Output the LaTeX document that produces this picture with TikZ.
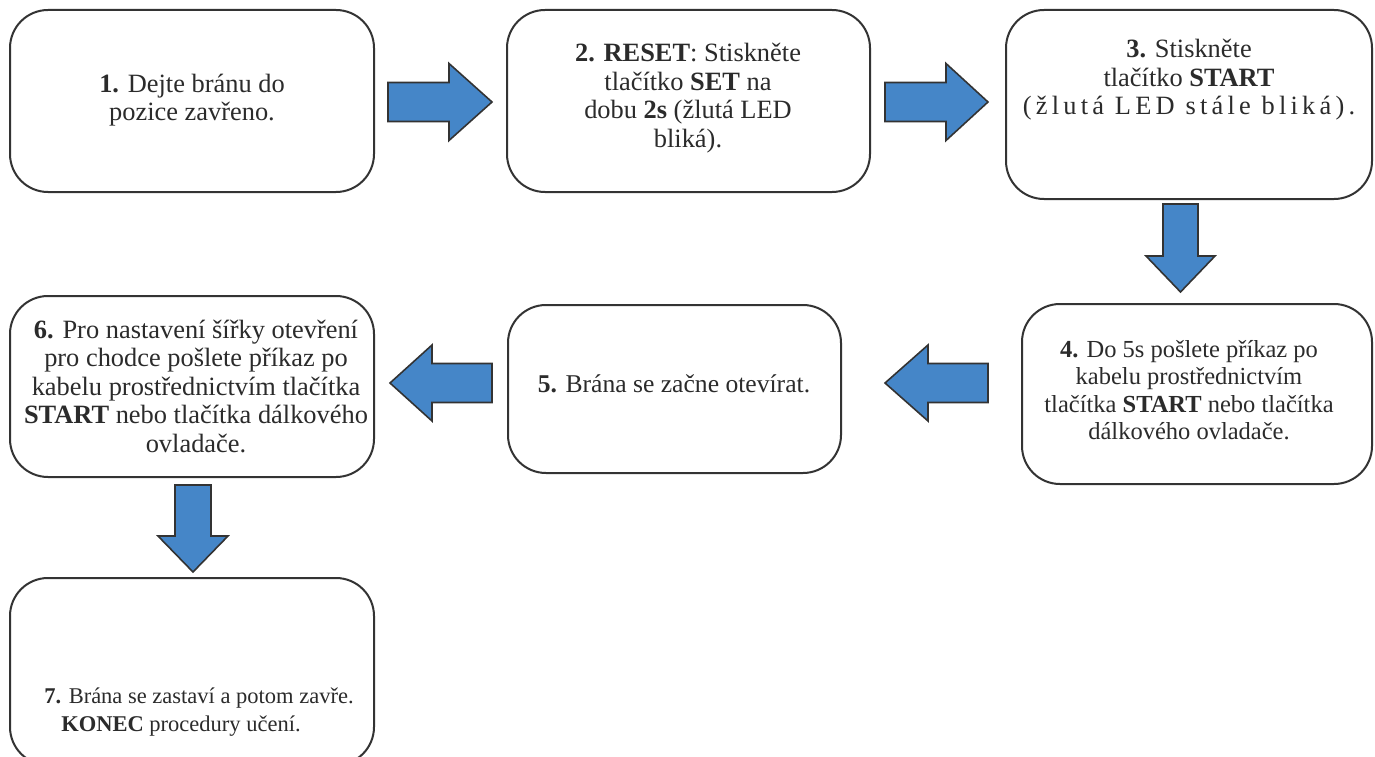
\documentclass[tikz,border=0pt]{standalone}
\usepackage{fontspec}
\setmainfont{Liberation Serif}
\definecolor{edgegray}{HTML}{333333}
\definecolor{textgray}{HTML}{2B2B2B}
\definecolor{arrowblue}{HTML}{4586C8}
\begin{document}
\begin{tikzpicture}[x=1pt,y=-1pt,
  stepbox/.style={draw=edgegray, line width=2pt, rounded corners=38pt, inner sep=0pt, fill=white},
  steptext/.style={align=center, text=textgray, inner sep=0pt, font=\fontsize{26.4}{28.5}\selectfont},
  blockarrow/.style={draw=edgegray, line width=1.6pt, fill=arrowblue, line join=miter}]
\useasboundingbox (0,0) rectangle (1375,757);

% step boxes
\node[stepbox, minimum width=364pt, minimum height=182pt] (b1) at (192,101) {};
\node[stepbox, minimum width=363pt, minimum height=182pt] (b2) at (688.5,101) {};
\node[stepbox, minimum width=366pt, minimum height=189pt] (b3) at (1189,104.5) {};
\node[stepbox, minimum width=350pt, minimum height=180pt] (b4) at (1197,394) {};
\node[stepbox, minimum width=333pt, minimum height=168pt] (b5) at (674.5,389) {};
\node[stepbox, minimum width=364pt, minimum height=181pt] (b6) at (192,386.5) {};
\node[stepbox, minimum width=364pt, minimum height=187pt] (b7) at (192,671.5) {};

% step texts
\node[steptext] (t1) at (192,100) {\textbf{1.} Dejte bránu do\\pozice zavřeno.};
\node[steptext] (t2) at (688,98) {\textbf{2. RESET}: Stiskněte\\tlačítko \textbf{SET} na\\dobu \textbf{2s} (žlutá LED\\bliká).};
\node[steptext] (t3) at (1189,80) {\textbf{3.} Stiskněte\\tlačítko \textbf{START}\\{\addfontfeature{LetterSpace=16}(žlutá LED stále bliká).}};
\node[steptext, font=\fontsize{24.5}{27.3}\selectfont] (t4) at (1189,390) {\textbf{4.} Do 5s pošlete příkaz po\\kabelu prostřednictvím\\tlačítka \textbf{START} nebo tlačítka\\dálkového ovladače.};
\node[steptext, font=\fontsize{25.6}{28}\selectfont] (t5) at (674,384) {\textbf{5.} Brána se začne otevírat.};
\node[steptext] (t6) at (196,386) {\textbf{6.} Pro nastavení šířky otevření\\pro chodce pošlete příkaz po\\kabelu prostřednictvím tlačítka\\\textbf{START} nebo tlačítka dálkového\\ovladače.};
\node[steptext, font=\fontsize{22.5}{28}\selectfont] (t7) at (199,712) {\textbf{7.} Brána se zastaví a potom zavře.\\\textbf{KONEC} procedury učení.\hspace*{36pt}};

% block arrows between the steps
\draw[blockarrow] (388,82.5) -- (449,82.5) -- (449,63.5) -- (492,102) -- (449,140.5) -- (449,121.5) -- (388,121.5) -- cycle;
\draw[blockarrow] (885,82.5) -- (946,82.5) -- (946,63.5) -- (988,102) -- (946,140.5) -- (946,121.5) -- (885,121.5) -- cycle;
\draw[blockarrow] (1163,204) -- (1198,204) -- (1198,256) -- (1215,256) -- (1180.5,292) -- (1146,256) -- (1163,256) -- cycle;
\draw[blockarrow] (988,363.5) -- (928,363.5) -- (928,345) -- (885,383) -- (928,421) -- (928,402.5) -- (988,402.5) -- cycle;
\draw[blockarrow] (492,363.5) -- (432,363.5) -- (432,345) -- (390,383) -- (432,421) -- (432,402.5) -- (492,402.5) -- cycle;
\draw[blockarrow] (175,485) -- (211,485) -- (211,536) -- (228,536) -- (193,572) -- (158,536) -- (175,536) -- cycle;
\end{tikzpicture}
\end{document}
